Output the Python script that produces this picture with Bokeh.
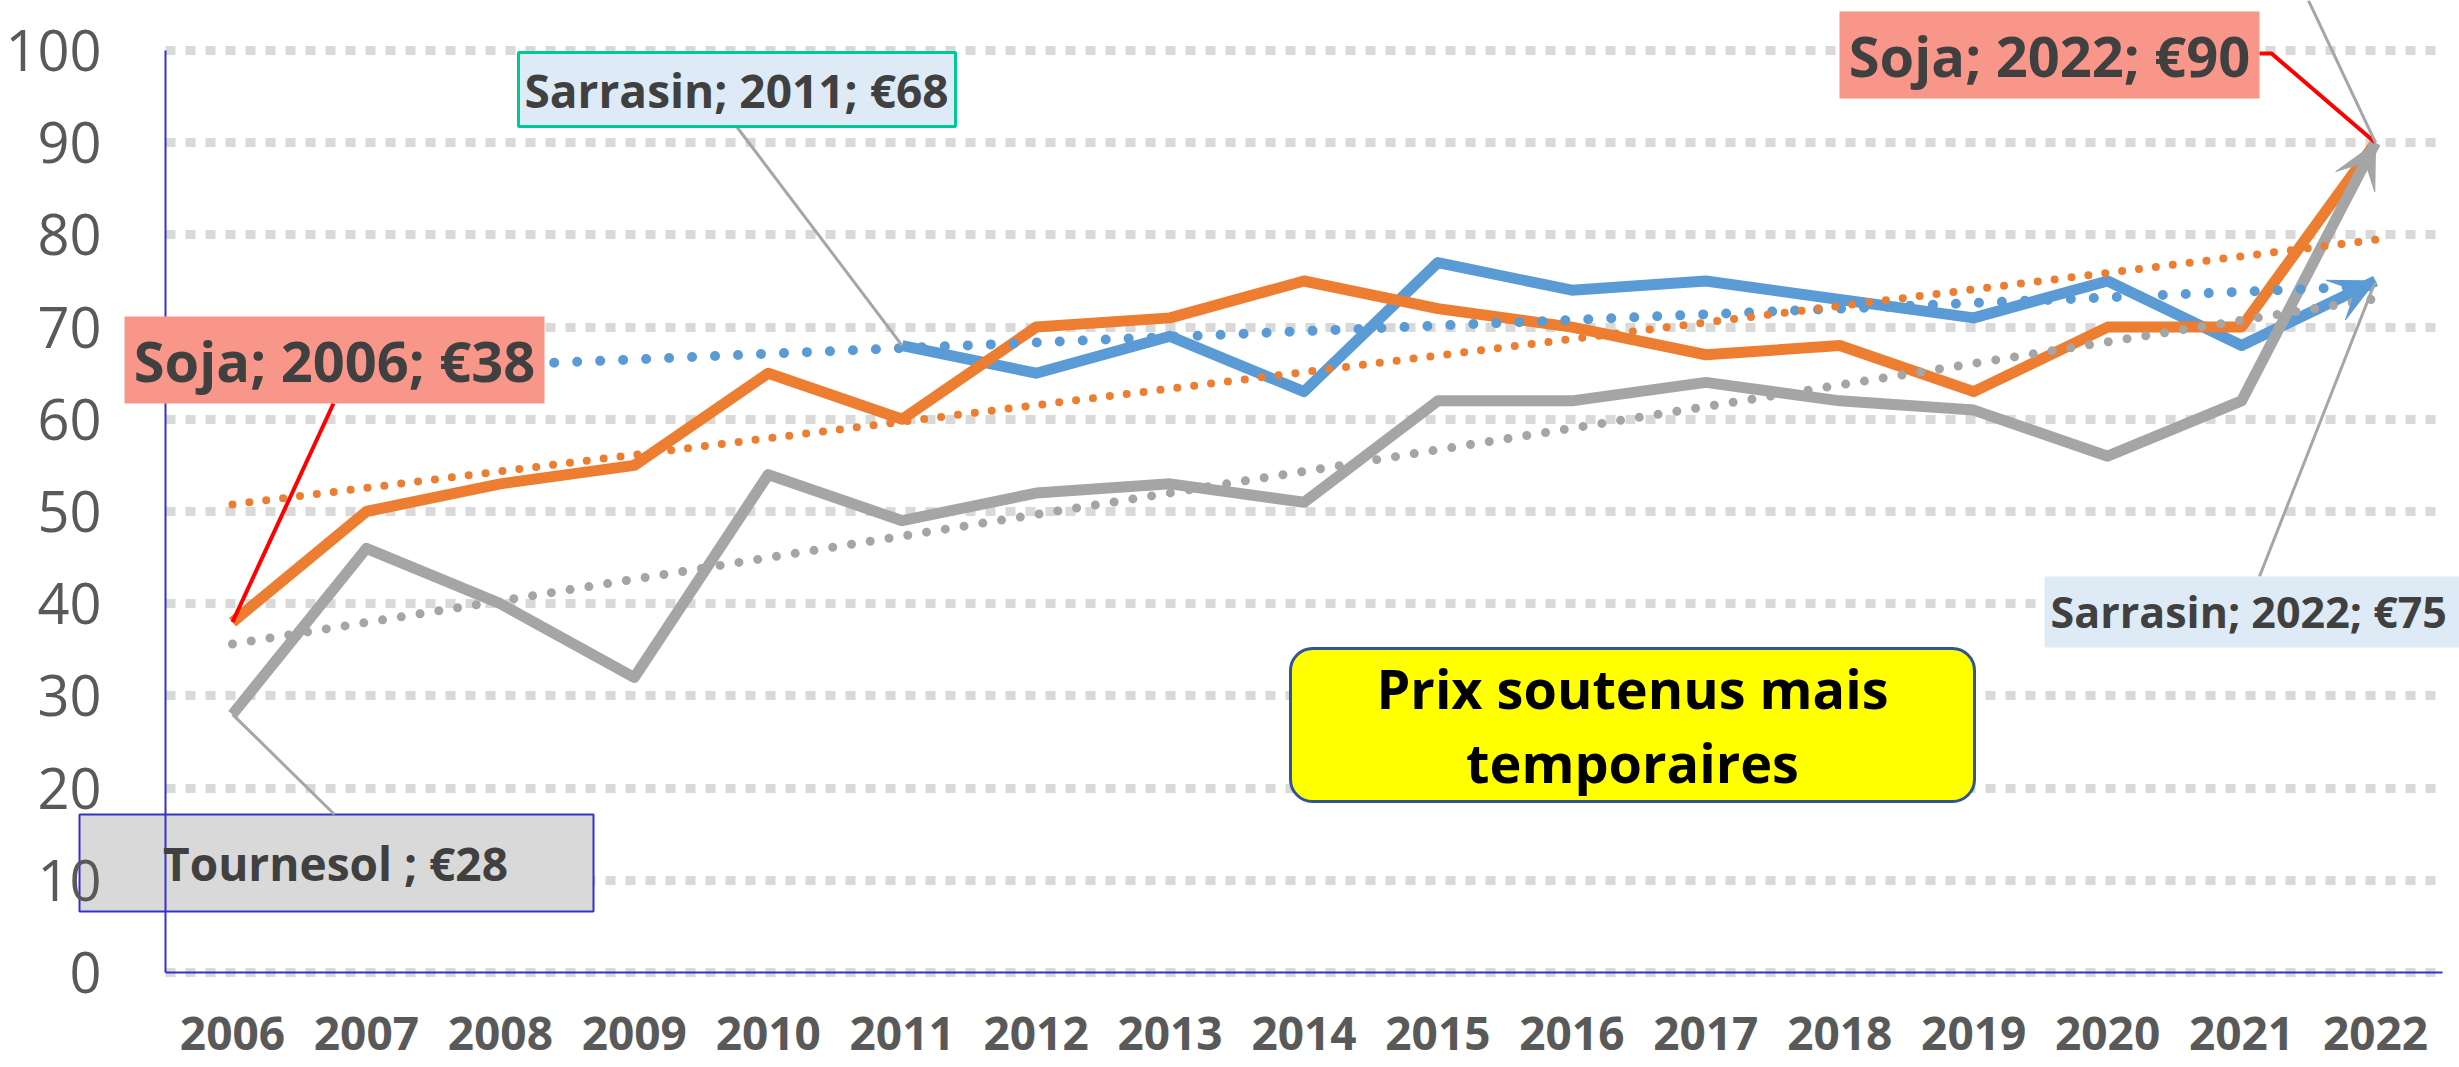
import numpy as np
from bokeh.plotting import figure
from bokeh.models import (Range1d, FixedTicker, Label, BoxAnnotation, Arrow, VeeHead)
from bokeh.embed import file_html
from bokeh.resources import INLINE

# ---------------- data ----------------
years = list(range(2006, 2023))
soja = [38, 50, 53, 55, 65, 60, 70, 71, 75, 72, 70, 67, 68, 63, 70, 70, 90]
sarrasin = [None, None, None, None, None, 68, 65, 69, 63, 77, 74, 75, 73, 71, 75, 68, 75]
tournesol = [28, 46, 40, 32, 54, 49, 52, 53, 51, 62, 62, 64, 62, 61, 56, 62, 90]
y_ticks = [0, 10, 20, 30, 40, 50, 60, 70, 80, 90, 100]

label_soja_2006 = "Soja; 2006; €38"
label_soja_2022 = "Soja; 2022; €90"
label_sarr_2011 = "Sarrasin; 2011; €68"
label_sarr_2022 = "Sarrasin; 2022; €75"
label_tourn = "Tournesol ; €28"
label_note = "Prix soutenus mais\ntemporaires"

# ---------------- layout ----------------
W, H = 2459, 1067          # canvas (page has no margin)
PX_PER_YEAR = 133.94
PX_PER_UNIT = 9.22
AX_X = 165                 # y-axis position (page px)
AX_Y = 972                 # x-axis position (page px)
x_lo = years[0] - 0.5
x_hi = years[-1] + 0.5

# helpers: page-pixel position -> data coordinates (for annotation placement)
def px(X):
    return x_lo + (X - AX_X) / PX_PER_YEAR

def py(Y):
    return (AX_Y - Y) / PX_PER_UNIT

ORANGE, BLUE, GRAY = "#ED7D31", "#5B9BD5", "#A5A5A5"
FONT = "Open Sans"

p = figure(width=W, height=H, output_backend="svg", toolbar_location=None,
           x_range=Range1d(px(0), px(W)), y_range=Range1d(py(H), py(0)),
           min_border=0)
p.outline_line_color = None
p.background_fill_color = "white"
p.border_fill_color = "white"

# axes (drawn at fixed locations so that the frame spans the whole canvas)
axis_color = "#3333CC"
p.yaxis.ticker = FixedTicker(ticks=y_ticks)
p.yaxis.bounds = (0, 100)
p.yaxis.fixed_location = x_lo
p.xaxis.ticker = FixedTicker(ticks=years)
p.xaxis.bounds = (x_lo, x_hi)
p.xaxis.fixed_location = 0
p.xaxis.major_label_overrides = {y: str(y) for y in years}
for ax in (p.xaxis[0], p.yaxis[0]):
    ax.axis_line_color = axis_color
    ax.axis_line_width = 2
    ax.major_tick_line_color = None
    ax.minor_tick_line_color = None
    ax.major_label_text_font = FONT
    ax.major_label_text_color = "#595959"
p.yaxis.major_label_text_font_size = "56px"
p.yaxis.major_label_standoff = 58
p.xaxis.major_label_text_font_size = "46px"
p.xaxis.major_label_text_font_style = "bold"
p.xaxis.major_label_standoff = 38

p.xgrid.grid_line_color = None
p.ygrid.ticker = FixedTicker(ticks=y_ticks)
p.ygrid.grid_line_color = "#D9D9D9"
p.ygrid.grid_line_width = 9
p.ygrid.grid_line_dash = "10 10"
p.ygrid.bounds = (0, 100)
p.ygrid.cross_bounds = (x_lo, years[-1] + 0.45)

# label boxes
def box(l, r, t, b, fill, line=None, lw=2, radius=0, level="annotation"):
    p.add_layout(BoxAnnotation(left=px(l), right=px(r), top=py(t), bottom=py(b),
                               fill_color=fill, fill_alpha=1,
                               line_color=line, line_alpha=1 if line else 0, line_width=lw,
                               border_radius=radius, level=level))

# Tournesol box sits under the axis text, as in the reference
box(79, 593, 814, 911, "#D9D9D9", line=axis_color, lw=2, level="underlay")

# series
sarr_arr = np.array([np.nan if v is None else v for v in sarrasin], dtype=float)
p.line(years, sarr_arr, line_color=BLUE, line_width=11, line_join="round")
p.line(years, soja, line_color=ORANGE, line_width=11, line_join="round")
p.line(years, tournesol, line_color=GRAY, line_width=11, line_join="round")

# linear trendlines (least squares, as in the spreadsheet)
def trend(vals):
    v = np.array([np.nan if a is None else a for a in vals], dtype=float)
    yr = np.array(years, dtype=float)
    m = ~np.isnan(v)
    k, b = np.polyfit(yr[m], v[m], 1)
    xs = [years[0], years[-1]]
    return xs, [k * xs[0] + b, k * xs[1] + b]

for vals, col, w, gap in ((sarrasin, BLUE, 10, "0 23"), (soja, ORANGE, 8, "0 17"),
                          (tournesol, GRAY, 9, "0 19")):
    tx, ty = trend(vals)
    p.line(tx, ty, line_color=col, line_width=w, line_dash=gap, line_cap="round")

# arrow heads at the 2022 end of two series
for vals, col in ((tournesol, GRAY), (sarrasin, BLUE)):
    p.add_layout(Arrow(end=VeeHead(size=44, fill_color=col, line_color=col),
                       x_start=years[-2], y_start=vals[-2], x_end=years[-1], y_end=vals[-1],
                       line_alpha=0, line_width=1))

# leader lines
p.line([px(333), years[0]], [py(403), soja[0]], line_color="#FF0000", line_width=4)
p.line([px(2259), px(2271), years[-1]], [py(53), py(53), soja[-1]], line_color="#FF0000", line_width=4)
p.line([px(736), years[5]], [py(126), sarrasin[5]], line_color="#A6A6A6", line_width=3)
p.line([px(2259), years[-1]], [py(576), sarrasin[-1]], line_color="#A6A6A6", line_width=3)
p.line([px(2308), years[-1]], [py(0), tournesol[-1]], line_color="#A6A6A6", line_width=3)
p.line([px(334), years[0]], [py(814), tournesol[0]], line_color="#A6A6A6", line_width=3)

def text(x, y, s, size, color="#404040", align="center", lh=1.0):
    p.add_layout(Label(x=px(x), y=py(y), text=s, text_align=align, text_baseline="middle",
                       text_font=FONT, text_font_style="bold", text_font_size=size,
                       text_color=color, text_line_height=lh))

SALMON = "#F8968A"
LIGHTBLUE = "#DEEBF7"
box(124, 544, 316, 403, SALMON)
text(334, 359, label_soja_2006, "56px")
box(1839, 2259, 11, 98, SALMON)
text(2049, 54, label_soja_2022, "56px")
box(518, 955, 52, 126, LIGHTBLUE, line="#00C896", lw=3)
text(736, 89, label_sarr_2011, "46px")
box(2044, 2520, 576, 647, LIGHTBLUE)
text(2050, 611, label_sarr_2022, "43px", align="left")
text(335, 862, label_tourn, "46px")
box(1290, 1974, 648, 801, "#FFFF00", line="#2F5597", lw=3, radius=22)
text(1632, 724, label_note, "54px", color="#000000", lh=1.0)

open("out.html", "w").write(file_html(p, INLINE))
